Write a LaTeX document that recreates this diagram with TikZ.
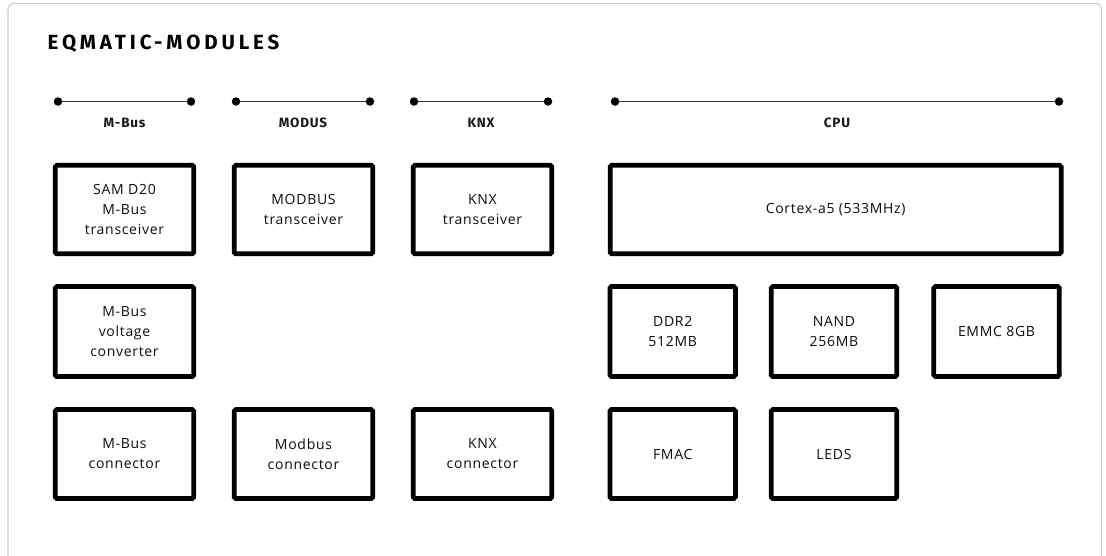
\documentclass[tikz,border=0pt]{standalone}
\usepackage{fontspec}
\setmainfont{Fira Sans}
\newfontfamily\boxfont{Open Sans}
\usetikzlibrary{positioning}
\definecolor{framegray}{HTML}{CCCCCC}
\definecolor{busgray}{HTML}{333333}
\tikzset{
  modbox/.style={draw=black, line width=4.6pt, rounded corners=1.5pt, fill=white,
    align=center, inner sep=0pt, font=\boxfont\fontsize{14}{20}\selectfont\addfontfeatures{LetterSpace=5}, text=black!95},
  dotnode/.style={circle, fill=black, inner sep=0pt, minimum size=8.5pt},
  busline/.style={draw=busgray, line width=1.4pt},
  buslabel/.style={font=\fontsize{13.5}{16}\selectfont\bfseries\addfontfeatures{LetterSpace=6}, text=black!90}
}
\begin{document}
\begin{tikzpicture}[x=1pt,y=-1pt]
\useasboundingbox (0,0) rectangle (1106,555);
\draw[framegray, line width=1.2pt, rounded corners=6pt] (8,565) -- (8,3.5) -- (1101.5,3.5) -- (1101.5,565);
\node[anchor=west, inner sep=0pt, font=\fontsize{20.5}{24}\selectfont\bfseries\addfontfeatures{LetterSpace=19}] (title) at (47.5,44) {EQMATIC-MODULES};

% bus lines
\foreach \n/\a/\b/\lab in {mbus/58/191/M-Bus, modus/236/370/MODUS, knx/414/548/KNX, cpu/615/1059/CPU}{
  \node[dotnode] (\n L) at (\a,101.5) {};
  \node[dotnode] (\n R) at (\b,101.5) {};
  \draw[busline] (\n L) -- (\n R);
  \node[buslabel] (\n lab) at ({(\a+\b)/2},122.5) {\lab};
}

% row 1
\node[modbox, minimum width=138.5pt, minimum height=88.5pt] (sam) at (124.5,209.5) {SAM D20\\M-Bus\\transceiver};
\node[modbox, minimum width=138.5pt, minimum height=88.5pt] (modtr) at (303.5,209.5) {MODBUS\\transceiver};
\node[modbox, minimum width=138.5pt, minimum height=88.5pt] (knxtr) at (482.5,209.5) {KNX\\transceiver};
\node[modbox, minimum width=451pt, minimum height=88.5pt] (cortex) at (835.7,209.5) {Cortex-a5 (533MHz)};

% row 2
\node[modbox, minimum width=138.5pt, minimum height=90pt] (mvc) at (124.5,331.5) {M-Bus\\voltage\\converter};
\node[modbox, minimum width=125.5pt, minimum height=90pt] (ddr) at (672.7,331.5) {DDR2\\512MB};
\node[modbox, minimum width=125.5pt, minimum height=90pt] (nand) at (834,331.5) {NAND\\256MB};
\node[modbox, minimum width=125.5pt, minimum height=90pt] (emmc) at (996.5,331.5) {EMMC 8GB};

% row 3
\node[modbox, minimum width=138.5pt, minimum height=89pt] (mcon) at (124.5,454) {M-Bus\\connector};
\node[modbox, minimum width=138.5pt, minimum height=89pt] (modcon) at (303.5,454) {Modbus\\connector};
\node[modbox, minimum width=138.5pt, minimum height=89pt] (knxcon) at (482.5,454) {KNX\\connector};
\node[modbox, minimum width=125.5pt, minimum height=89pt] (fmac) at (672.7,454) {FMAC};
\node[modbox, minimum width=125.5pt, minimum height=89pt] (leds) at (834,454) {LEDS};
\end{tikzpicture}
\end{document}
